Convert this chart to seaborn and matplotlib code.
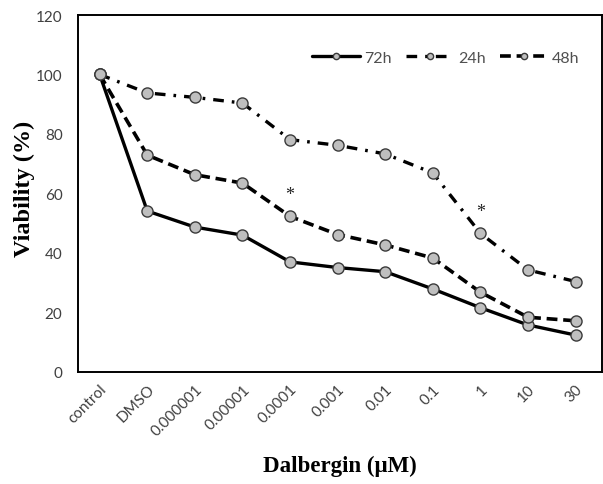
import matplotlib
matplotlib.use("Agg")
import matplotlib.pyplot as plt
import seaborn as sns
import pandas as pd
import numpy as np

# Concentrations of dalbergin (category labels along x)
concentrations = ["control", "DMSO", "0.000001", "0.00001", "0.0001",
                  "0.001", "0.01", "0.1", "1", "10", "30"]

# Cell viability (%) per exposure time
viability_72h = [100, 54.1, 48.7, 46.0, 37.0, 35.1, 33.7, 27.9, 21.6, 15.8, 12.4]
viability_24h = [100, 93.8, 92.3, 90.4, 78.1, 76.2, 73.3, 66.9, 46.6, 34.3, 30.4]
viability_48h = [100, 72.9, 66.3, 63.5, 52.3, 46.2, 42.7, 38.3, 26.8, 18.4, 17.2]

# Significance marks: (series values, category index)
significant = [(viability_48h, 4), (viability_24h, 8)]

y_ticks = [0, 20, 40, 60, 80, 100, 120]

sns.set_theme(style="white")
plt.rcParams["font.family"] = ["Lato", "DejaVu Sans"]

fig = plt.figure(figsize=(6.03, 4.85), dpi=100)
ax = fig.add_axes([0.129, 0.231, 0.869, 0.736])

pos = np.arange(len(concentrations))
df = pd.DataFrame({"pos": pos,
                   "72h": viability_72h,
                   "24h": viability_24h,
                   "48h": viability_48h})

marker_kw = dict(marker="o", markersize=8, markerfacecolor="#bfbfbf",
                 markeredgecolor="#3a3a3a", markeredgewidth=1.0)

sns.lineplot(data=df, x="pos", y="72h", ax=ax, color="black", lw=2.4,
             label="72h", **marker_kw)
sns.lineplot(data=df, x="pos", y="24h", ax=ax, color="black", lw=2.4,
             dashes=(3.2, 2.4, 0.8, 2.4), label="24h", **marker_kw)
sns.lineplot(data=df, x="pos", y="48h", ax=ax, color="black", lw=2.6,
             dashes=(3.0, 1.6), label="48h", **marker_kw)

for values, idx in significant:
    ax.text(pos[idx], values[idx] + 7.5, "*", ha="center", va="center",
            fontsize=13, color="#222222", family="Liberation Serif")

ax.set_xlim(-0.46, 10.55)
ax.set_ylim(0, 120)
ax.set_yticks(y_ticks)
ax.set_yticklabels([str(t) for t in y_ticks], fontsize=11, color="#404040")
ax.set_xticks(pos)
ax.set_xticklabels(concentrations, rotation=45, ha="right",
                   rotation_mode="anchor", fontsize=11, color="#404040")
ax.tick_params(axis="y", length=0, pad=11)
ax.tick_params(axis="x", length=0, pad=7)

for side in ["left", "right", "top", "bottom"]:
    ax.spines[side].set_visible(True)
    ax.spines[side].set_color("black")
    ax.spines[side].set_linewidth(1.4)

ax.set_xlabel("Dalbergin (μM)", fontsize=16.5, fontweight="bold",
              family="Liberation Serif", color="black", labelpad=12)
ax.set_ylabel("Viability (%)", fontsize=17.5, fontweight="bold",
              family="Liberation Serif", color="black")
ax.yaxis.set_label_coords(-0.082, 0.515)

leg = ax.legend(loc="upper right", bbox_to_anchor=(0.985, 0.94), ncol=3,
                frameon=False, fontsize=11.5, handlelength=3.0,
                columnspacing=0.9, handletextpad=0.25)
for t in leg.get_texts():
    t.set_color("#505050")
for h in leg.get_lines():
    h.set_markersize(4.5)

fig.savefig("out.png", dpi=100)
